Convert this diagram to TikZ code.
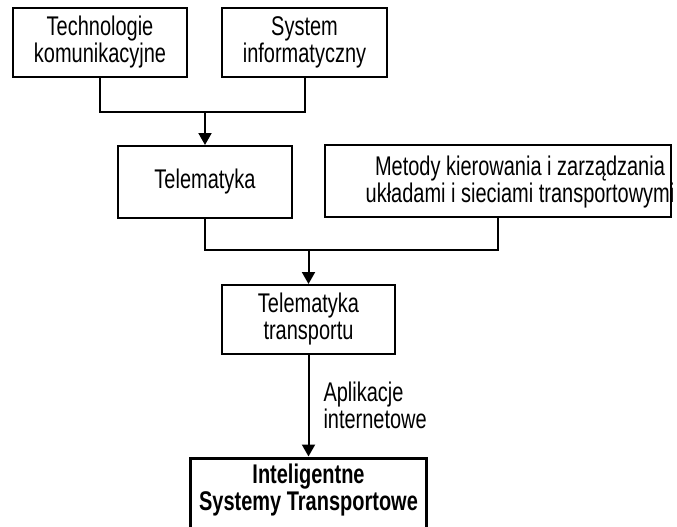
\documentclass[tikz,border=0pt]{standalone}
\usepackage{fontspec}
\setmainfont{Liberation Sans}[FakeStretch=0.74]
\usepackage{tikz}
\usetikzlibrary{arrows.meta}

\tikzset{
    napis/.style={align=center,inner sep=0pt,font=\fontsize{27}{27}\selectfont},
    blok/.style={draw,line width=2pt,napis},
    strz/.style={line width=2pt,-{Triangle[length=12pt,width=13pt]}},
    lin/.style={line width=2pt}
}

\begin{document}
\begin{tikzpicture}[x=1pt,y=-1pt]
    \useasboundingbox(0,0) rectangle (677,527);
    \node[blok,minimum width=174,minimum height=69] at(100,42.5)(tech){Technologie\\komunikacyjne};
    \node[blok,minimum width=165,minimum height=69] at(304.5,42.5)(sys){System\\informatyczny};
    \node[blok,minimum width=174,minimum height=72] at(205,182)(tel){Telematyka};
    \node[blok,minimum width=346,minimum height=72] at(498,181)(met){};
    \node[napis] at(520,182)(mettxt){Metody kierowania i zarządzania\\układami i sieciami transportowymi};
    \node[blok,minimum width=173,minimum height=69] at(308.5,319.5)(teltr){Telematyka\\transportu};
    \node[blok,line width=3pt,minimum width=236,minimum height=84] at(308.5,500)(its){};
    \node[napis,font=\fontsize{27}{27}\selectfont\bfseries] at(308.5,490)(itstxt){Inteligentne\\Systemy Transportowe};
    \coordinate(w1) at(205,112);
    \coordinate(w2) at(308.5,250);
    \draw[lin](tech.south) |- (w1) -| (sys.south);
    \draw[strz](w1) -- (tel.north);
    \draw[lin](tel.south) |- (w2) -| (met.south);
    \draw[strz](w2) -- (teltr.north);
    \draw[strz](teltr.south) -- node[napis,right=14pt,align=left](apl){Aplikacje\\internetowe} (its.north);
\end{tikzpicture}
\end{document}
